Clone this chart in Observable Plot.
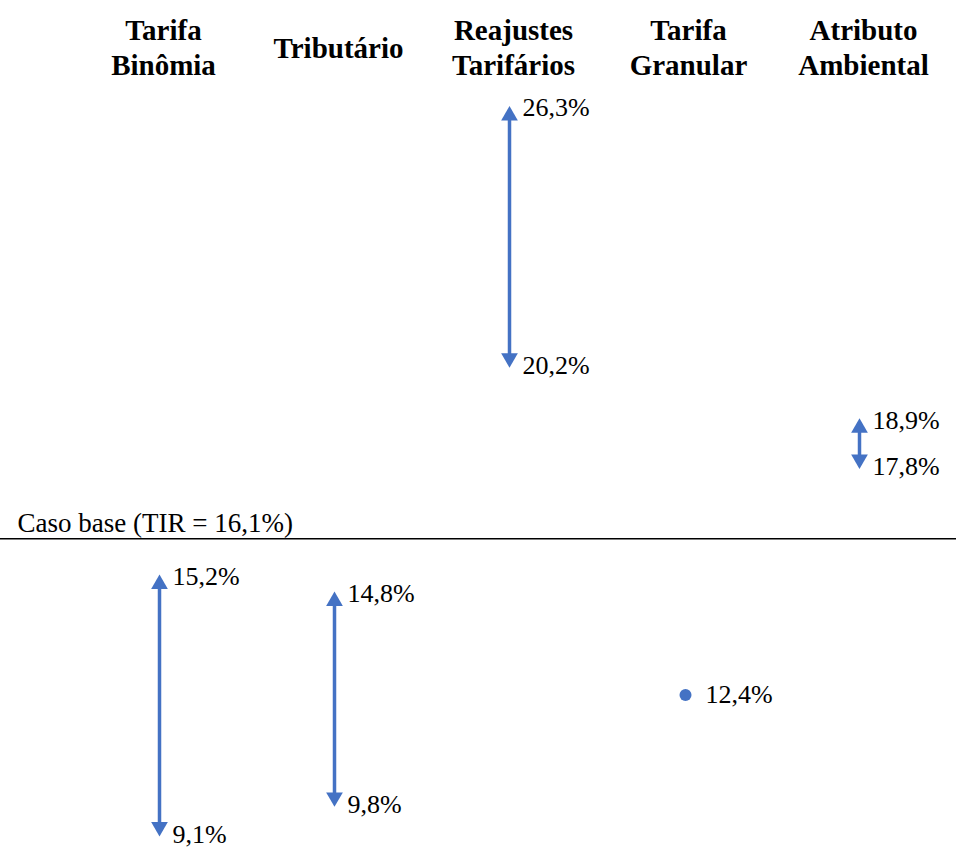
<!DOCTYPE html>
<html>
<head>
<meta charset="utf-8">
<script src="https://cdn.jsdelivr.net/npm/d3@7"></script>
<script src="https://cdn.jsdelivr.net/npm/@observablehq/plot@0.6"></script>
<style>
  html, body { margin: 0; padding: 0; background: #fff; }
  #chart svg { display: block; }
  #chart svg text { font-family: 'Liberation Serif', 'Times New Roman', serif; }
</style>
</head>
<body>
<div id="chart"></div>
<script>
const categories = ["Tarifa\nBinômia", "Tributário", "Reajustes\nTarifários", "Tarifa\nGranular", "Atributo\nAmbiental"];
const lowValues  = [9.1, 9.8, 20.2, 12.4, 17.8];
const highValues = [15.2, 14.8, 26.3, 12.4, 18.9];
const baseCase = 16.1;
const baseLabel = "Caso base (TIR = 16,1%)";

const rows = categories.map((c, i) => ({cat: c, low: lowValues[i], high: highValues[i]}));
const ranges = rows.filter(d => d.low !== d.high);
const points = rows.filter(d => d.low === d.high);
const fmt = v => d3.format(".1f")(v).replace(".", ",") + "%";

const blue = "#4472C4";
const serif = "Liberation Serif, Times New Roman, serif";

const chart = Plot.plot({
  width: 956,
  height: 848,
  marginTop: 78,
  marginBottom: 10,
  marginLeft: 0,
  marginRight: 0,
  style: {fontFamily: serif, background: "#fff", overflow: "visible"},
  x: {type: "point", domain: categories, range: [158, 860], padding: 0, axis: null},
  y: {domain: [9, 27], axis: null},
  marks: [
    // base case line
    Plot.ruleY([baseCase], {stroke: "#000", strokeWidth: 1.5}),
    Plot.text([baseCase], {
      y: d => d, frameAnchor: "left", text: () => baseLabel,
      textAnchor: "start", lineAnchor: "bottom", dx: 17, dy: -7,
      fontSize: 27, fill: "#000", fontFamily: serif
    }),
    // headers
    Plot.text(categories, {
      x: d => d, frameAnchor: "top", text: d => d,
      lineAnchor: "middle", dy: -32, dx: 4, lineHeight: 1.2,
      fontSize: 29, fontWeight: "bold", fill: "#000", fontFamily: serif
    }),
    // arrow shafts (y1 = upper end so insets shorten the shaft)
    Plot.ruleX(ranges, {x: "cat", y1: "high", y2: "low", stroke: blue, strokeWidth: 3.5, insetTop: 8, insetBottom: 8}),
    // arrow heads
    Plot.dot(ranges, {x: "cat", y: "high", symbol: "triangle", r: 6.2, fill: blue, stroke: "none", dy: 7.5}),
    Plot.dot(ranges, {x: "cat", y: "low", symbol: "triangle", r: 6.2, fill: blue, stroke: "none", dy: -7.5, rotate: 180}),
    // single point
    Plot.dot(points, {x: "cat", y: "low", r: 6, fill: blue, stroke: "none", dx: 1}),
    // labels
    Plot.text(ranges, {x: "cat", y: "high", text: d => fmt(d.high), textAnchor: "start", dx: 13, fontSize: 26, fill: "#000", fontFamily: serif}),
    Plot.text(ranges, {x: "cat", y: "low", text: d => fmt(d.low), textAnchor: "start", dx: 13, fontSize: 26, fill: "#000", fontFamily: serif}),
    Plot.text(points, {x: "cat", y: "low", text: d => fmt(d.low), textAnchor: "start", dx: 21, fontSize: 26, fill: "#000", fontFamily: serif})
  ]
});
document.getElementById("chart").appendChild(chart);
</script>
</body>
</html>
